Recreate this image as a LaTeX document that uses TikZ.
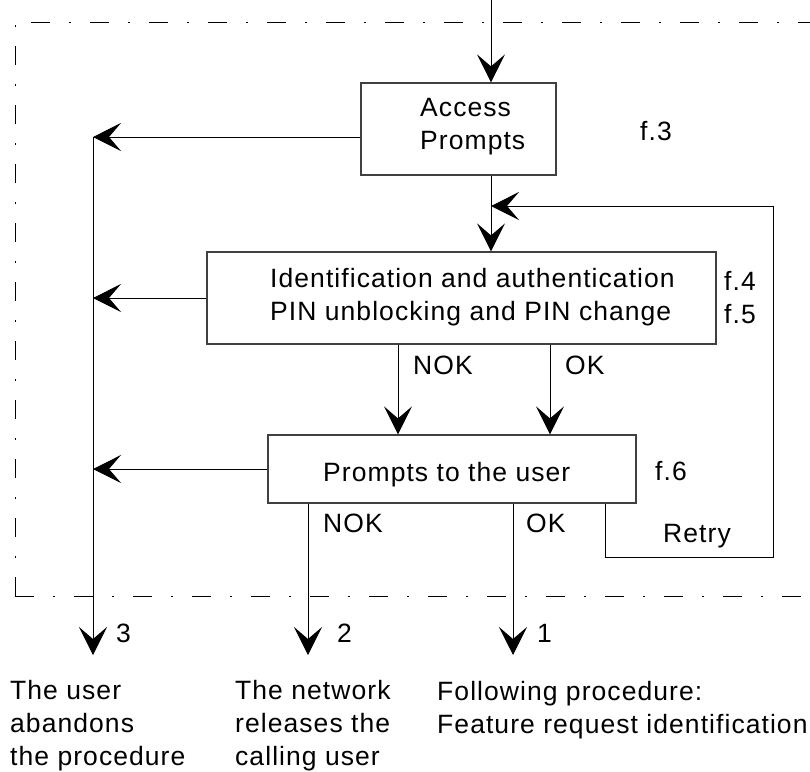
\documentclass[tikz,border=0pt]{standalone}
\usepackage{fontspec}
\setmainfont{Liberation Sans}[LetterSpace=4]
\usetikzlibrary{arrows.meta}

\begin{document}
\begin{tikzpicture}[x=1pt, y=-1pt,
				    box/.style={draw=black!75, line width=1.2pt, inner sep=0pt},
				    txt/.style={inner sep=0pt, align=left, anchor=base west},
				    arr/.style={-{Stealth[length=28pt, width=28pt, inset=12pt]},
				    			line width=1pt},
				    frame/.style={line width=1pt,
				    			  dash pattern=on 19pt off 19pt on 2pt off 19pt},
				    font=\fontsize{26.5}{33}\selectfont]
	\useasboundingbox (0,0) rectangle (810,771);

	% frame round the procedure
	\draw[frame] (15,596) -- (15,22) -- (810,22);
	\draw[frame] (15,596) -- (810,596);

	\node[box, minimum width=195pt, minimum height=92pt] (acc) at (458.5, 129) {};
	\node[box, minimum width=509pt, minimum height=92pt] (idf) at (461.5, 298) {};
	\node[box, minimum width=368pt, minimum height=68pt] (prm) at (452, 469) {};
	\node[txt] (accT) at (420, 149) {Access\\Prompts};
	\node[txt] (idfT) at (270, 320) {Identification and authentication\\PIN unblocking and PIN change};
	\node[txt] (prmT) at (323, 481) {Prompts to the user};

	\node[txt] (f3) at (640, 140) {f.3};
	\node[txt] (f45) at (724, 323) {f.4\\f.5};
	\node[txt] (f6) at (655, 480) {f.6};
	\node[txt] (retry) at (663, 542) {Retry};
	\node[txt] (nok1) at (413, 374) {NOK};
	\node[txt] (ok1) at (565, 374) {OK};
	\node[txt] (nok2) at (323, 532) {NOK};
	\node[txt] (ok2) at (526, 532) {OK};
	\node[txt] (n3) at (116, 642) {3};
	\node[txt] (n2) at (337, 642) {2};
	\node[txt] (n1) at (537, 642) {1};
	\node[txt] (t3) at (10, 765) {The user\\abandons\\the procedure};
	\node[txt] (t2) at (235, 765) {The network\\releases the\\calling user};
	\node[txt] (t1) at (437, 733) {Following procedure:\\Feature request identification};

	\coordinate (in) at (491, 0);
	\coordinate (c3) at (93, 137);
	\coordinate (c4) at (93, 298);
	\coordinate (c6) at (93, 469);
	\coordinate (out3) at (93, 655);
	\coordinate (out2) at (308, 655);
	\coordinate (out1) at (513, 655);
	\coordinate (xnok) at (398, 0);
	\coordinate (xok) at (550, 0);
	\coordinate (r1) at (605, 557);
	\coordinate (r2) at (773, 557);
	\coordinate (r3) at (773, 206);
	\coordinate (rj) at (491, 206);

	\draw[arr] 	(in)  --  (in |- acc.north);
	\draw[arr] 	(acc.south -| in)  --  (idf.north -| in);
	\draw[arr] 	(r1 |- prm.south)  --  (r1) -- (r2) -- (r3) -- (rj);
	\draw[arr] 	(idf.south -| xnok)  --  (prm.north -| xnok);
	\draw[arr] 	(idf.south -| xok)  --  (prm.north -| xok);
	\draw[arr] 	(acc.west |- c3)  --  (c3);
	\draw[arr] 	(idf.west |- c4)  --  (c4);
	\draw[arr] 	(prm.west |- c6)  --  (c6);
	\draw[arr] 	(c3)  --  (out3);
	\draw[arr] 	(prm.south -| out2)  --  (out2);
	\draw[arr] 	(prm.south -| out1)  --  (out1);

\end{tikzpicture}
\end{document}
